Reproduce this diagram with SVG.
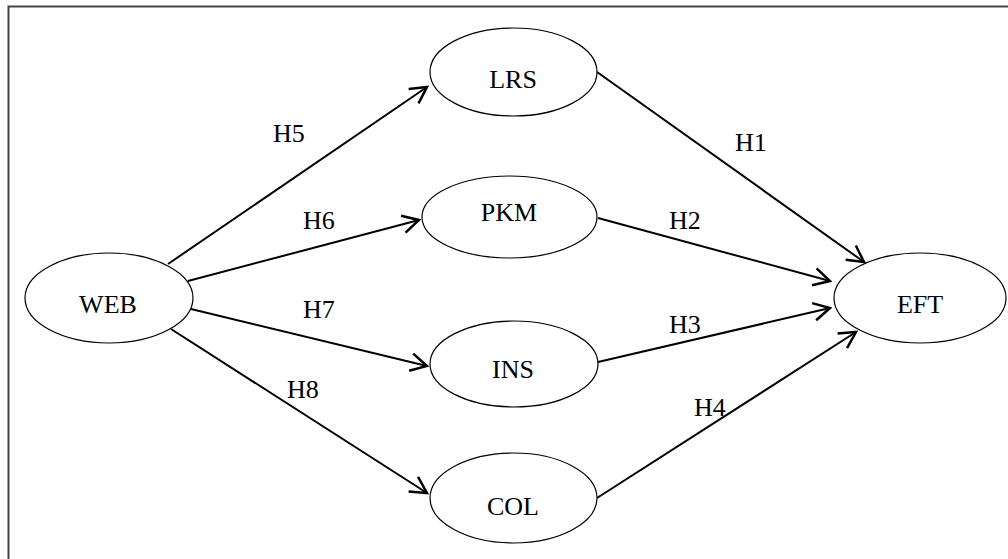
<svg xmlns="http://www.w3.org/2000/svg" width="1008" height="559" viewBox="0 0 1008 559">
  <style>
    .node ellipse { fill: #ffffff; stroke: #000000; stroke-width: 1.2; }
    .node text, .lbl { font-family: "Liberation Serif", "Times New Roman", serif; font-size: 26px; fill: #000000; }
    .node text { text-anchor: middle; }
    .edge { stroke: #000000; stroke-width: 2; fill: none; marker-end: url(#arrow); }
  </style>
  <defs>
    <marker id="arrow" markerUnits="userSpaceOnUse" markerWidth="20" markerHeight="20" viewBox="-14 -8 16 16" refX="0" refY="0" orient="auto">
      <path d="M -13 -7 L 0 0 L -13 7" fill="none" stroke="#000000" stroke-width="2"/>
    </marker>
  </defs>

  <rect x="0" y="0" width="1008" height="559" fill="#ffffff"/>
  <!-- outer frame -->
  <rect x="8.5" y="6.5" width="1100" height="600" fill="none" stroke="#444444" stroke-width="2"/>

  <g id="connectors">
    <line class="edge" x1="168" y1="264" x2="427" y2="87"/>
    <line class="edge" x1="188" y1="281" x2="419" y2="220"/>
    <line class="edge" x1="191" y1="309" x2="427" y2="366"/>
    <line class="edge" x1="171" y1="329" x2="427" y2="493"/>
    <line class="edge" x1="597" y1="72" x2="864" y2="262"/>
    <line class="edge" x1="598" y1="218" x2="830" y2="281"/>
    <line class="edge" x1="598" y1="362" x2="830" y2="308"/>
    <line class="edge" x1="597" y1="498" x2="856" y2="332"/>
  </g>

  <g id="labels">
    <text class="lbl" x="273" y="142">H5</text>
    <text class="lbl" x="303" y="229">H6</text>
    <text class="lbl" x="303" y="318">H7</text>
    <text class="lbl" x="287" y="398">H8</text>
    <text class="lbl" x="735" y="151">H1</text>
    <text class="lbl" x="669" y="229">H2</text>
    <text class="lbl" x="669" y="333">H3</text>
    <text class="lbl" x="694" y="416">H4</text>
  </g>

  <g id="node-web" class="node">
    <ellipse cx="109" cy="298" rx="84" ry="45"/>
    <text x="108" y="313">WEB</text>
  </g>
  <g id="node-lrs" class="node">
    <ellipse cx="513.5" cy="72" rx="83.5" ry="44"/>
    <text x="513" y="88">LRS</text>
  </g>
  <g id="node-pkm" class="node">
    <ellipse cx="509.5" cy="217" rx="87.5" ry="41"/>
    <text x="509" y="221">PKM</text>
  </g>
  <g id="node-ins" class="node">
    <ellipse cx="514" cy="364" rx="84" ry="43"/>
    <text x="513" y="378">INS</text>
  </g>
  <g id="node-col" class="node">
    <ellipse cx="513.5" cy="498" rx="83.5" ry="45"/>
    <text x="513" y="515">COL</text>
  </g>
  <g id="node-eft" class="node">
    <ellipse cx="920" cy="298" rx="86" ry="45"/>
    <text x="920" y="313">EFT</text>
  </g>
</svg>
